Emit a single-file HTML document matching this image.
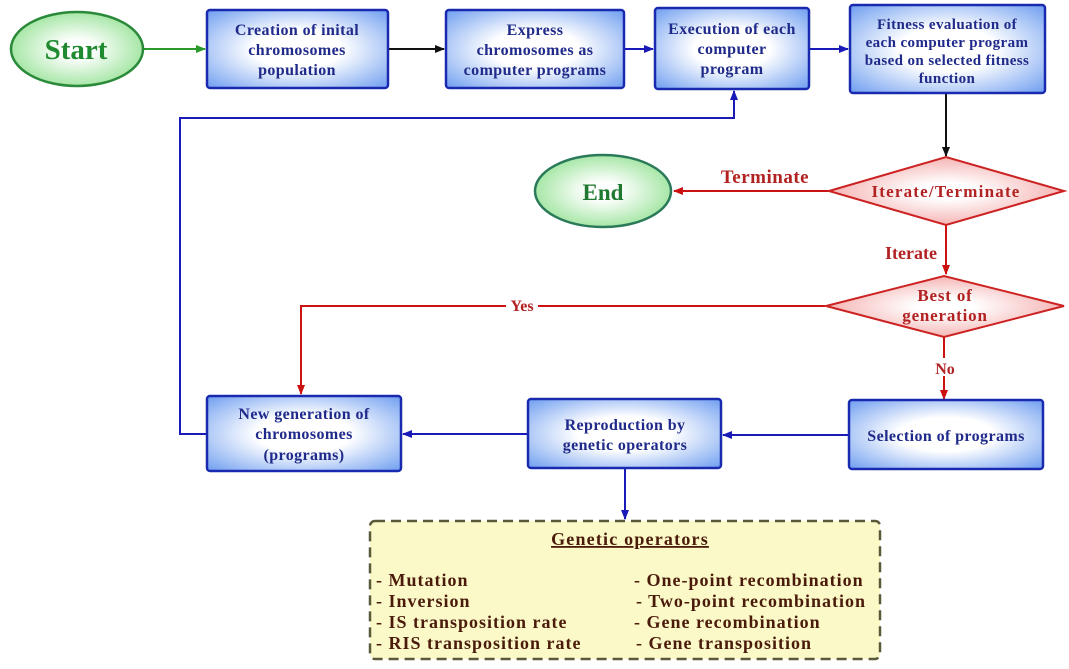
<!DOCTYPE html>
<html><head><meta charset="utf-8"><style>
html,body{margin:0;padding:0;background:#fff;}
svg{display:block;}
text{font-family:"Liberation Serif",serif;font-weight:bold;}
.b{fill:#1f2a8a;font-size:16px;letter-spacing:0.4px;text-anchor:middle;}
.r{fill:#b22222;font-size:15px;text-anchor:middle;}
.g{fill:#4a1a0a;font-size:18px;letter-spacing:1px;}
</style></head><body>
<svg width="1069" height="669" viewBox="0 0 1069 669" xmlns="http://www.w3.org/2000/svg">
<defs>
<radialGradient id="bg" cx="50%" cy="50%" r="70%"><stop offset="0.35" stop-color="#ffffff"/><stop offset="1" stop-color="#6f9ef0"/></radialGradient>
<radialGradient id="gg" cx="50%" cy="50%" r="60%"><stop offset="0.2" stop-color="#ffffff"/><stop offset="1" stop-color="#8fe08f"/></radialGradient>
<radialGradient id="rg" cx="50%" cy="50%" r="60%"><stop offset="0.2" stop-color="#ffffff"/><stop offset="1" stop-color="#f3a0a0"/></radialGradient>
<marker id="ab" markerWidth="10" markerHeight="8" refX="9" refY="4" orient="auto" markerUnits="userSpaceOnUse"><path d="M0,0 L10,4 L0,8z" fill="#1a1ab8"/></marker>
<marker id="ak" markerWidth="10" markerHeight="8" refX="9" refY="4" orient="auto" markerUnits="userSpaceOnUse"><path d="M0,0 L10,4 L0,8z" fill="#111"/></marker>
<marker id="ag" markerWidth="10" markerHeight="8" refX="9" refY="4" orient="auto" markerUnits="userSpaceOnUse"><path d="M0,0 L10,4 L0,8z" fill="#2a9a2a"/></marker>
<marker id="ar" markerWidth="10" markerHeight="8" refX="9" refY="4" orient="auto" markerUnits="userSpaceOnUse"><path d="M0,0 L10,4 L0,8z" fill="#cc1111"/></marker>
</defs>

<line x1="143" y1="49" x2="205" y2="49" stroke="#2a9a2a" stroke-width="2" marker-end="url(#ag)"/>
<line x1="388" y1="49" x2="444" y2="49" stroke="#111" stroke-width="2" marker-end="url(#ak)"/>
<line x1="624" y1="49" x2="653" y2="49" stroke="#1a1ab8" stroke-width="2" marker-end="url(#ab)"/>
<line x1="808" y1="49" x2="848" y2="49" stroke="#1a1ab8" stroke-width="2" marker-end="url(#ab)"/>
<line x1="946" y1="94" x2="946" y2="156" stroke="#111" stroke-width="2" marker-end="url(#ak)"/>
<line x1="829" y1="191" x2="674" y2="191" stroke="#cc1111" stroke-width="2" marker-end="url(#ar)"/>
<line x1="946" y1="225" x2="946" y2="274" stroke="#cc1111" stroke-width="2" marker-end="url(#ar)"/>
<path d="M825,306 H301 V394" fill="none" stroke="#cc1111" stroke-width="2" marker-end="url(#ar)"/>
<line x1="944" y1="337" x2="944" y2="399" stroke="#cc1111" stroke-width="2" marker-end="url(#ar)"/>
<line x1="849" y1="435" x2="723" y2="435" stroke="#1a1ab8" stroke-width="2" marker-end="url(#ab)"/>
<line x1="528" y1="434" x2="403" y2="434" stroke="#1a1ab8" stroke-width="2" marker-end="url(#ab)"/>
<path d="M207,434 H180 V118 H734 V91" fill="none" stroke="#1a1ab8" stroke-width="2" marker-end="url(#ab)"/>
<line x1="625" y1="468" x2="625" y2="519" stroke="#1a1ab8" stroke-width="2" marker-end="url(#ab)"/>

<rect x="506" y="298" width="32" height="16" fill="#fff"/>
<text class="r" x="522" y="311" style="font-size:16px">Yes</text>
<rect x="930" y="358" width="30" height="18" fill="#fff"/>
<text class="r" x="945" y="374" style="font-size:16px">No</text>
<text class="r" x="765" y="183" style="font-size:19px;letter-spacing:0.5px">Terminate</text>
<text class="r" x="911" y="259" style="font-size:18px">Iterate</text>

<ellipse cx="77" cy="49" rx="66" ry="37" fill="url(#gg)" stroke="#2a8a3a" stroke-width="2.5"/>
<text x="76" y="59" text-anchor="middle" style="font-size:29px;fill:#1f8a2f">Start</text>
<ellipse cx="603" cy="191" rx="68" ry="36" fill="url(#gg)" stroke="#2a7a5a" stroke-width="2.5"/>
<text x="603" y="200" text-anchor="middle" style="font-size:23px;fill:#1f7a2f">End</text>

<rect x="207" y="10" width="181" height="78" rx="3" fill="url(#bg)" stroke="#1a2ab0" stroke-width="2.5"/>
<text class="b" x="297" y="35">Creation of inital</text><text class="b" x="297" y="55">chromosomes</text><text class="b" x="297" y="75">population</text>
<rect x="446" y="10" width="178" height="78" rx="3" fill="url(#bg)" stroke="#1a2ab0" stroke-width="2.5"/>
<text class="b" x="535" y="35">Express</text><text class="b" x="535" y="55">chromosomes as</text><text class="b" x="535" y="75">computer programs</text>
<rect x="655" y="8" width="154" height="81" rx="3" fill="url(#bg)" stroke="#1a2ab0" stroke-width="2.5"/>
<text class="b" x="732" y="34">Execution of each</text><text class="b" x="732" y="54">computer</text><text class="b" x="732" y="74">program</text>
<rect x="850" y="5" width="195" height="88" rx="3" fill="url(#bg)" stroke="#1a2ab0" stroke-width="2.5"/>
<text class="b" x="947" y="29" style="font-size:15px">Fitness evaluation of</text><text class="b" x="947" y="47" style="font-size:15px">each computer program</text><text class="b" x="947" y="65" style="font-size:15px">based on selected fitness</text><text class="b" x="947" y="83" style="font-size:15px">function</text>

<rect x="849" y="400" width="194" height="69" rx="3" fill="url(#bg)" stroke="#1a2ab0" stroke-width="2.5"/>
<text class="b" x="946" y="441">Selection of programs</text>
<rect x="528" y="399" width="193" height="69" rx="3" fill="url(#bg)" stroke="#1a2ab0" stroke-width="2.5"/>
<text class="b" x="625" y="430">Reproduction by</text><text class="b" x="625" y="450">genetic operators</text>
<rect x="207" y="396" width="194" height="75" rx="3" fill="url(#bg)" stroke="#1a2ab0" stroke-width="2.5"/>
<text class="b" x="304" y="419">New generation of</text><text class="b" x="304" y="439">chromosomes</text><text class="b" x="304" y="460">(programs)</text>

<polygon points="829,191 946,157 1064,191 946,225" fill="url(#rg)" stroke="#cc2222" stroke-width="2"/>
<text class="r" x="946" y="197" style="font-size:17px;letter-spacing:1.2px">Iterate/Terminate</text>
<polygon points="826,306 944,276 1064,306 944,337" fill="url(#rg)" stroke="#cc2222" stroke-width="2"/>
<text class="r" x="945" y="301" style="font-size:17px;letter-spacing:0.8px">Best of</text><text class="r" x="945" y="321" style="font-size:17px;letter-spacing:0.8px">generation</text>

<rect x="370" y="521" width="510" height="138" rx="5" fill="#fcf9c8" stroke="#5a5a3a" stroke-width="2.5" stroke-dasharray="10,6"/>
<text class="g" x="630" y="545" text-anchor="middle" style="text-decoration:underline;letter-spacing:1.2px">Genetic operators</text>
<text class="g" x="376" y="586">- Mutation</text>
<text class="g" x="376" y="607">- Inversion</text>
<text class="g" x="376" y="628">- IS transposition rate</text>
<text class="g" x="376" y="649">- RIS transposition rate</text>
<text class="g" x="634" y="586">- One-point recombination</text>
<text class="g" x="636" y="607">- Two-point recombination</text>
<text class="g" x="634" y="628">- Gene recombination</text>
<text class="g" x="636" y="649">- Gene transposition</text>
</svg>
</body></html>
